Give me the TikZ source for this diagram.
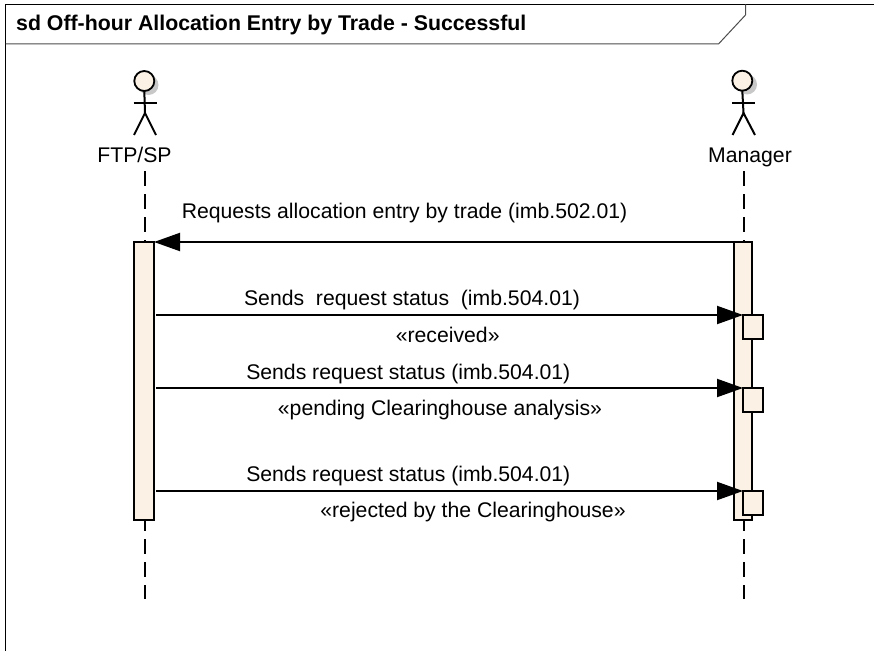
\documentclass[tikz,border=0pt]{standalone}
\usepackage{fontspec}
\setmainfont{Liberation Sans}
\usetikzlibrary{arrows.meta}

\tikzset{
  bar/.style={draw=black,fill=barcol,line width=2bp,inner sep=0pt,outer sep=0pt},
  selfbox/.style={draw=black,fill=barcol,line width=2bp,minimum width=20bp,minimum height=24bp,inner sep=0pt,outer sep=0pt},
  lifeline/.style={line width=2bp,dash pattern=on 14.5bp off 8.5bp},
  msg/.style={line width=2bp,-{Triangle[length=26bp,width=18bp]}},
  lbl/.style={font=\fontsize{21.2bp}{24bp}\selectfont,inner sep=0pt,anchor=base},
  actorhead/.style={circle,draw=black,fill=barcol,line width=1.8bp,minimum size=20bp,inner sep=0pt,outer sep=0pt},
  actor/.style={line width=2bp}
}
\definecolor{barcol}{RGB}{251,241,228}
\definecolor{shadowcol}{RGB}{200,200,200}

\begin{document}
\begin{tikzpicture}[x=1bp,y=-1bp,line join=miter]
\useasboundingbox (0,0) rectangle (874,651);

% Frame
\draw [line width=1bp,draw=black] (5.5,651) -- (5.5,4.5) -- (874,4.5);
\draw [line width=1bp,draw=black!70] (5.5,44) -- (718.5,44) -- (745.5,15) -- (745.5,4.5);
\node (title) [lbl,font=\fontsize{21.3bp}{24bp}\selectfont\bfseries,anchor=base west] at (16,31) {sd Off-hour Allocation Entry by Trade - Successful};

% Actor: FTP/SP
\fill [shadowcol] (148.5,85) circle (10);
\node (headL) [actorhead] at (144.3,81) {};
\coordinate (hipL) at (145,113);
\draw [actor] (headL.south) -- (hipL);
\draw [actor] (133.5,103) -- (156.5,103);
\draw [actor] (134,135) -- (hipL) -- (156,135);
\node (nameL) [lbl] at (134.5,163) {FTP/SP};

% Actor: Manager
\fill [shadowcol] (747,84.5) circle (10);
\node (headR) [actorhead] at (742.3,80.7) {};
\coordinate (hipR) at (743.5,113);
\draw [actor] (headR.south) -- (hipR);
\draw [actor] (732,103) -- (755,103);
\draw [actor] (732.5,135) -- (hipR) -- (755,135);
\node (nameR) [lbl] at (750,163) {Manager};

% Lifelines
\coordinate (endL) at (145,599);
\coordinate (endR) at (744,599);
\draw [lifeline] (145,171) -- (endL);
\draw [lifeline] (744,171) -- (endR);

% Activations
\node (barL) [bar,minimum width=20bp,minimum height=278bp] at (144,381) {};
\node (barR) [bar,minimum width=18bp,minimum height=278bp] at (743,381) {};
\node (boxA) [selfbox] at (753,327) {};
\node (boxB) [selfbox] at (753,400) {};
\node (boxC) [selfbox] at (753,503) {};

% Messages
\draw [msg] (barR.north west) -- (barL.north east);
\draw [msg] (barL.east |- boxA.north west) ++(2,0) -- (boxA.north west);
\draw [msg] (barL.east |- boxB.north west) ++(2,0) -- (boxB.north west);
\draw [msg] (barL.east |- boxC.north west) ++(2,0) -- (boxC.north west);

% Labels
\node (reqmsg) [lbl] at (404.5,218) {Requests allocation entry by trade (imb.502.01)};
\node (msgA) [lbl] at (412,305) {Sends\ \ request status\ \ (imb.504.01)};
\node (stA) [lbl] at (447.7,342) {«received»};
\node (msgB) [lbl] at (408.3,379) {Sends request status (imb.504.01)};
\node (stB) [lbl] at (440,415) {«pending Clearinghouse analysis»};
\node (msgC) [lbl] at (408.3,481) {Sends request status (imb.504.01)};
\node (stC) [lbl] at (473,517) {«rejected by the Clearinghouse»};
%
\end{tikzpicture}
\end{document}
